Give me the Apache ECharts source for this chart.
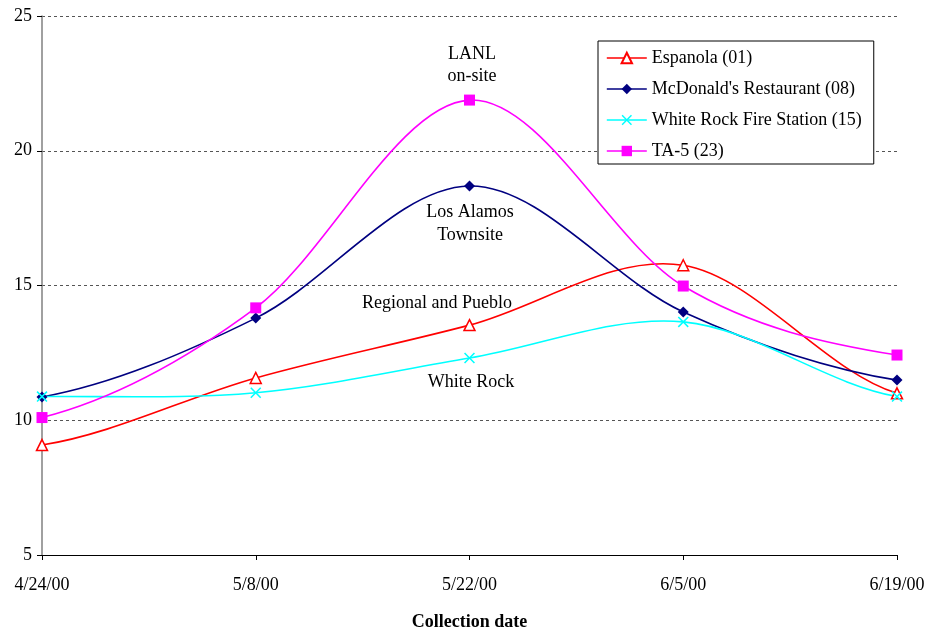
<!DOCTYPE html>
<html>
<head>
<meta charset="utf-8">
<script src="https://cdn.jsdelivr.net/npm/echarts@6/dist/echarts.min.js"></script>
<style>
  html, body { margin: 0; padding: 0; background: #fff; }
  #chart { width: 929px; height: 632px; }
</style>
</head>
<body>
<div id="chart"></div>
<script>
// Collection dates along the x axis
const dates = ['4/24/00', '5/8/00', '5/22/00', '6/5/00', '6/19/00'];

// Measured values per sampling station
const espanola = [9.08, 11.57, 13.53, 15.75, 11.0];
const mcdonalds = [10.86, 13.79, 18.69, 14.02, 11.49];
const whiteRockFire = [10.88, 11.02, 12.31, 13.65, 10.88];
const ta5 = [10.1, 14.17, 21.88, 14.98, 12.42];

const seriesNames = ['Espanola (01)', "McDonald's Restaurant (08)", 'White Rock Fire Station (15)', 'TA-5 (23)'];
const seriesColors = ['#FF0000', '#000080', '#00FFFF', '#FF00FF'];

// Y-axis range
const yMin = 5, yMax = 25, yStep = 5;

const FONT = '"Liberation Serif", "Times New Roman", serif';
const FS = 18;
const crossPath = 'path://M0,1L1,0L5,4L9,0L10,1L6,5L10,9L9,10L5,6L1,10L0,9L4,5Z';

const chart = echarts.init(document.getElementById('chart'));

// Markers (and legend entries) for each station; the connecting curve is drawn separately
function markerSeries(name, data, color, symbol, size, extra) {
  return Object.assign({
    name: name,
    type: 'line',
    data: data,
    symbol: symbol,
    symbolSize: size,
    showAllSymbol: true,
    lineStyle: { color: color, width: 1.6, opacity: 0 },
    itemStyle: { color: color },
    z: 3
  }, extra || {});
}

// Cardinal spline through the points (eased tangents at both ends), projected by the axes
function curveSeries(values, color) {
  return {
    type: 'custom',
    name: 'curve-' + color,
    silent: true,
    z: 2,
    data: [[0, values[0]]],
    encode: { x: 0, y: 1 },
    renderItem: function (params, api) {
      const pts = values.map(function (v, i) { return api.coord([i, v]); });
      const n = pts.length;
      let d = 'M' + pts[0][0] + ',' + pts[0][1];
      for (let i = 0; i < n - 1; i++) {
        const p1 = pts[i];
        const p2 = pts[i + 1];
        let c1x, c1y, c2x, c2y;
        if (i === 0) {
          c1x = p1[0] + (p2[0] - p1[0]) / 3;
          c1y = p1[1] + (p2[1] - p1[1]) / 6;
        } else {
          const p0 = pts[i - 1];
          c1x = p1[0] + (p2[0] - p0[0]) / 6;
          c1y = p1[1] + (p2[1] - p0[1]) / 6;
        }
        if (i === n - 2) {
          c2x = p2[0] - (p2[0] - p1[0]) / 3;
          c2y = p2[1] - (p2[1] - p1[1]) / 6;
        } else {
          const p3 = pts[i + 2];
          c2x = p2[0] - (p3[0] - p1[0]) / 6;
          c2y = p2[1] - (p3[1] - p1[1]) / 6;
        }
        d += 'C' + c1x + ',' + c1y + ',' + c2x + ',' + c2y + ',' + p2[0] + ',' + p2[1];
      }
      return {
        type: 'path',
        shape: { pathData: d },
        style: { stroke: color, fill: null, lineWidth: 1.6 }
      };
    }
  };
}

function note(text, x, y) {
  return {
    type: 'text', x: x, y: y,
    style: { text: text, font: FS + 'px ' + FONT, fill: '#000', align: 'center', verticalAlign: 'middle' }
  };
}

const option = {
  animation: false,
  backgroundColor: '#fff',
  grid: { left: 42, right: 32, top: 16, bottom: 77, outerBoundsMode: 'none', containLabel: false },
  legend: {
    orient: 'vertical',
    left: 598,
    top: 41,
    padding: [8, 12, 4, 8],
    itemGap: 13,
    itemWidth: 40,
    itemHeight: 13,
    borderColor: '#000',
    borderWidth: 1,
    backgroundColor: '#fff',
    lineStyle: { opacity: 1, width: 1.6 },
    textStyle: { fontFamily: FONT, fontSize: FS, color: '#000' },
    data: seriesNames
  },
  xAxis: {
    type: 'category',
    data: dates,
    boundaryGap: false,
    name: 'Collection date',
    nameLocation: 'middle',
    nameGap: 58,
    nameTextStyle: { fontFamily: FONT, fontSize: FS, fontWeight: 'bold', color: '#000' },
    axisLine: { lineStyle: { color: '#000', width: 1 } },
    axisTick: { alignWithLabel: true, length: 5, lineStyle: { color: '#000' } },
    axisLabel: { fontFamily: FONT, fontSize: FS, color: '#000', margin: 21 },
    splitLine: { show: false }
  },
  yAxis: {
    type: 'value',
    min: yMin,
    max: yMax,
    interval: yStep,
    axisLine: { show: true, lineStyle: { color: '#808080', width: 1.5 } },
    axisTick: { show: true, length: 5, lineStyle: { color: '#000' } },
    axisLabel: { fontFamily: FONT, fontSize: FS, color: '#000', margin: 10 },
    splitLine: { show: true, lineStyle: { color: '#555', type: [3, 3], width: 1 } }
  },
  series: [
    markerSeries(seriesNames[0], espanola, seriesColors[0], 'triangle', 11, {
      itemStyle: { color: '#fff', borderColor: seriesColors[0], borderWidth: 1.5 }
    }),
    markerSeries(seriesNames[1], mcdonalds, seriesColors[1], 'diamond', 11),
    markerSeries(seriesNames[2], whiteRockFire, seriesColors[2], crossPath, 11),
    markerSeries(seriesNames[3], ta5, seriesColors[3], 'rect', 11),
    curveSeries(espanola, seriesColors[0]),
    curveSeries(mcdonalds, seriesColors[1]),
    curveSeries(whiteRockFire, seriesColors[2]),
    curveSeries(ta5, seriesColors[3])
  ],
  graphic: [
    note('LANL', 472, 54),
    note('on-site', 472, 76),
    note('Los Alamos', 470, 212),
    note('Townsite', 470, 235),
    note('Regional and Pueblo', 437, 303),
    note('White Rock', 471, 382)
  ]
};

chart.setOption(option);
</script>
</body>
</html>
